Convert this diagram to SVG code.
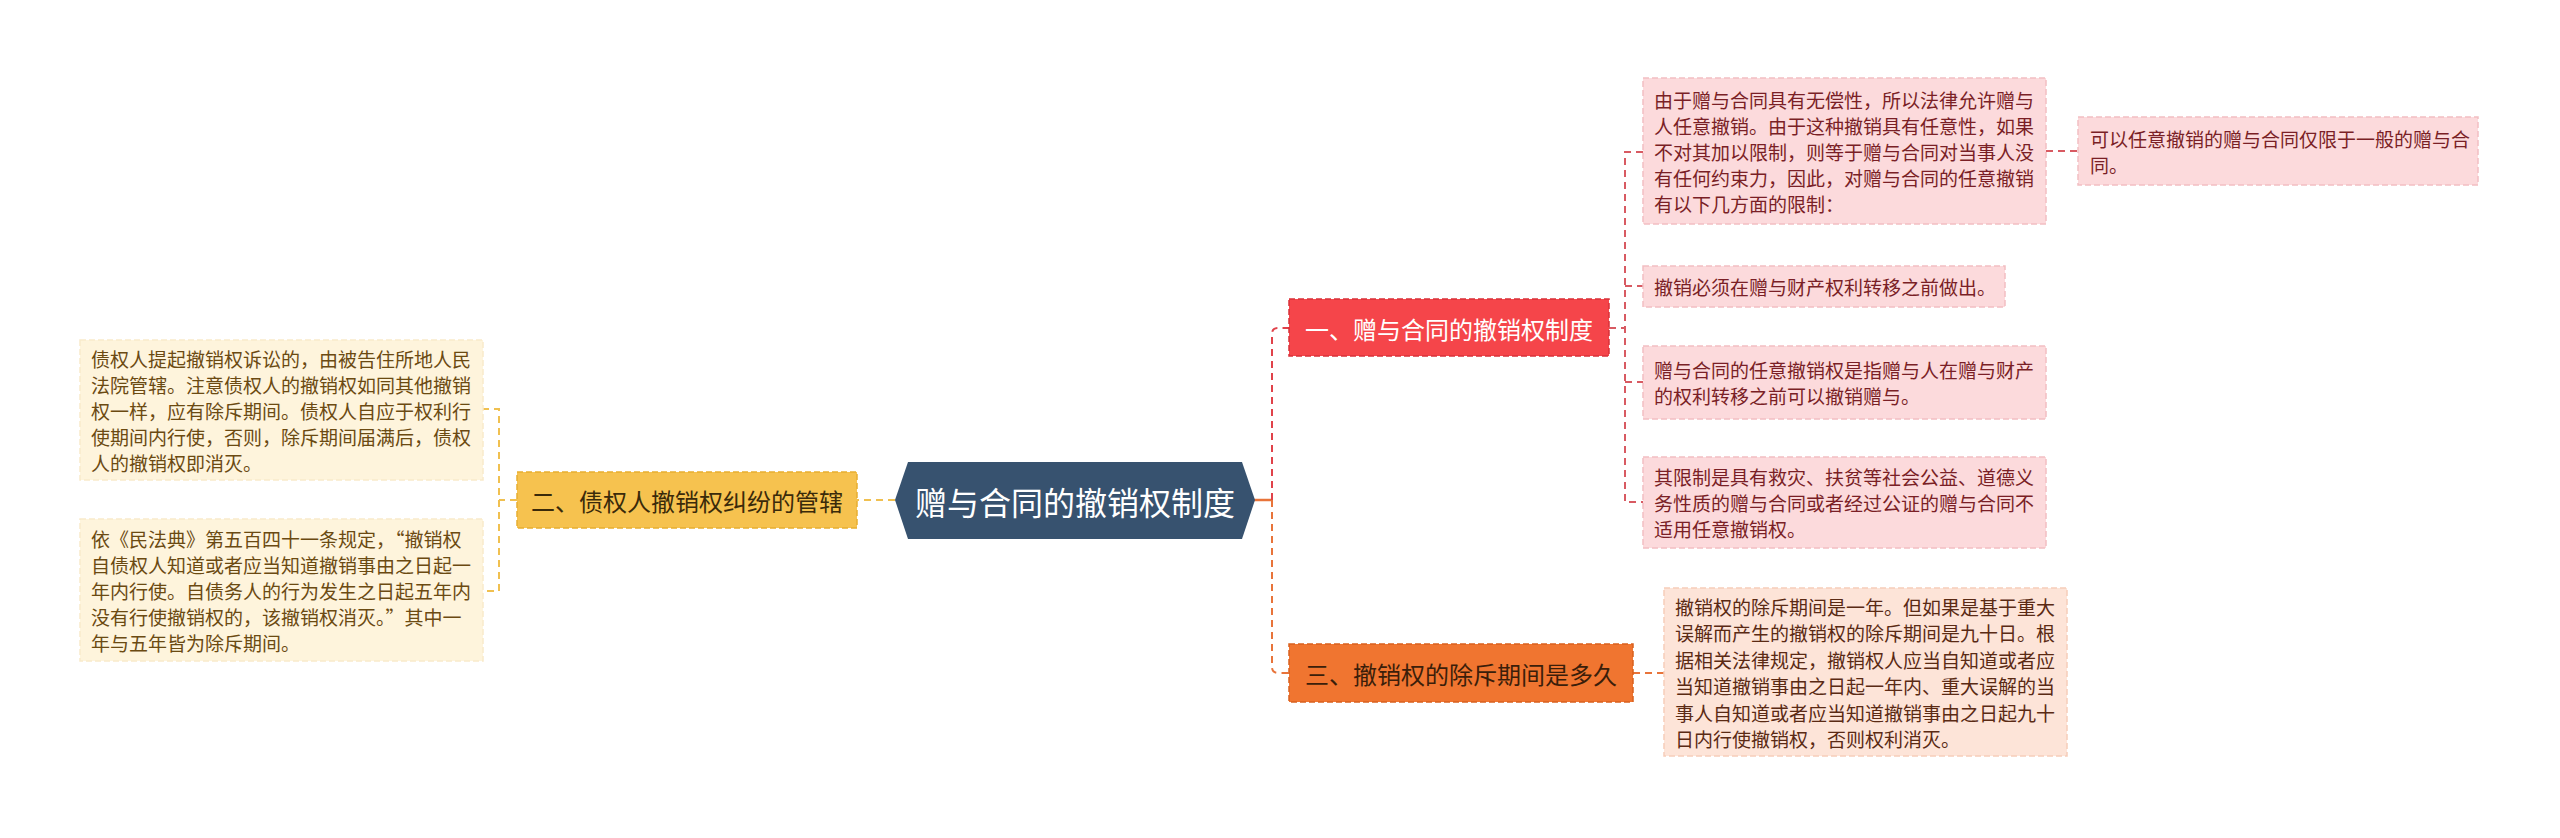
<svg xmlns="http://www.w3.org/2000/svg" width="2560" height="838" viewBox="0 0 2560 838">
<style>
text{font-family:"Noto Sans CJK SC","Microsoft YaHei",sans-serif;}
.lf{font-size:19px;dominant-baseline:central;}
.br{font-size:24px;dominant-baseline:central;text-anchor:middle;}
.pink rect{fill:#FCDADC;stroke:#F2BFC2;stroke-width:1.5;stroke-dasharray:6 3;}
.pink text{fill:#7A1F26;}
.peach rect{fill:#FDE4D8;stroke:#F6CDB9;stroke-width:1.5;stroke-dasharray:6 3;}
.peach text{fill:#5A2A14;}
.cream rect{fill:#FEF4DC;stroke:#F9EACA;stroke-width:1.5;stroke-dasharray:6 3;}
.cream text{fill:#6B4A12;}
.c{fill:none;stroke-width:2;stroke-dasharray:7 5;}
</style>
<rect width="2560" height="838" fill="#ffffff"/>
<g id="connectors">
  <path d="M1254 500 H1272" fill="none" stroke="#E8743A" stroke-width="2.5"/>
  <path class="c" stroke="#E0424A" d="M1272 500 V334 Q1272 328 1278 328 H1289"/>
  <path class="c" stroke="#E8743A" d="M1272 500 V667 Q1272 673 1278 673 H1289"/>
  <path class="c" stroke="#F0C050" d="M895 500 H857"/>
  <path class="c" stroke="#F0C050" d="M517 500 H499"/>
  <path class="c" stroke="#F0C050" d="M482 409 H499 V591 H482"/>
  <path class="c" stroke="#D85A62" d="M1609 328 H1625"/>
  <path class="c" stroke="#D85A62" d="M1643 152 H1625 V502 H1643"/>
  <path class="c" stroke="#D85A62" d="M1625 286 H1643"/>
  <path class="c" stroke="#D85A62" d="M1625 382 H1643"/>
  <path class="c" stroke="#D85A62" d="M2046 151 H2078"/>
  <path class="c" stroke="#E8743A" d="M1633 673 H1664"/>
</g>
<g id="center">
  <polygon points="895,500 908,462 1242,462 1255,500 1242,539 908,539" fill="#37526F"/>
  <text x="1075" y="501" font-size="32" fill="#ffffff" text-anchor="middle" dominant-baseline="central">赠与合同的撤销权制度</text>
</g>
<g id="branch1">
  <rect x="1289" y="299" width="320" height="57" fill="#F5454A" stroke="#D93038" stroke-width="1.5" stroke-dasharray="6 3"/>
  <text class="br" x="1449" y="328" fill="#ffffff">一、赠与合同的撤销权制度</text>
</g>
<g id="branch2">
  <rect x="517" y="472" width="340" height="56" fill="#F6C24F" stroke="#E8AE30" stroke-width="1.5" stroke-dasharray="6 3"/>
  <text class="br" x="687" y="500" fill="#3A2A0A">二、债权人撤销权纠纷的管辖</text>
</g>
<g id="branch3">
  <rect x="1289" y="644" width="344" height="58" fill="#F07530" stroke="#D9601E" stroke-width="1.5" stroke-dasharray="6 3"/>
  <text class="br" x="1461" y="673" fill="#3B1E0A">三、撤销权的除斥期间是多久</text>
</g>
<g id="leafA" class="pink">
  <rect x="1643" y="78" width="403" height="146"/>
  <text class="lf" x="1654" y="99">由于赠与合同具有无偿性，所以法律允许赠与</text>
  <text class="lf" x="1654" y="125">人任意撤销。由于这种撤销具有任意性，如果</text>
  <text class="lf" x="1654" y="151">不对其加以限制，则等于赠与合同对当事人没</text>
  <text class="lf" x="1654" y="177">有任何约束力，因此，对赠与合同的任意撤销</text>
  <text class="lf" x="1654" y="203">有以下几方面的限制：</text>
</g>
<g id="leafE" class="pink">
  <rect x="2078" y="117" width="400" height="68"/>
  <text class="lf" x="2090" y="138">可以任意撤销的赠与合同仅限于一般的赠与合</text>
  <text class="lf" x="2090" y="164">同。</text>
</g>
<g id="leafB" class="pink">
  <rect x="1643" y="266" width="362" height="41"/>
  <text class="lf" x="1654" y="286">撤销必须在赠与财产权利转移之前做出。</text>
</g>
<g id="leafC" class="pink">
  <rect x="1643" y="346" width="403" height="73"/>
  <text class="lf" x="1654" y="369">赠与合同的任意撤销权是指赠与人在赠与财产</text>
  <text class="lf" x="1654" y="395">的权利转移之前可以撤销赠与。</text>
</g>
<g id="leafD" class="pink">
  <rect x="1643" y="457" width="403" height="91"/>
  <text class="lf" x="1654" y="476">其限制是具有救灾、扶贫等社会公益、道德义</text>
  <text class="lf" x="1654" y="502">务性质的赠与合同或者经过公证的赠与合同不</text>
  <text class="lf" x="1654" y="528">适用任意撤销权。</text>
</g>
<g id="leafF" class="peach">
  <rect x="1664" y="588" width="403" height="168"/>
  <text class="lf" x="1675" y="606">撤销权的除斥期间是一年。但如果是基于重大</text>
  <text class="lf" x="1675" y="632">误解而产生的撤销权的除斥期间是九十日。根</text>
  <text class="lf" x="1675" y="659">据相关法律规定，撤销权人应当自知道或者应</text>
  <text class="lf" x="1675" y="685">当知道撤销事由之日起一年内、重大误解的当</text>
  <text class="lf" x="1675" y="712">事人自知道或者应当知道撤销事由之日起九十</text>
  <text class="lf" x="1675" y="738">日内行使撤销权，否则权利消灭。</text>
</g>
<g id="leafL1" class="cream">
  <rect x="80" y="340" width="403" height="140"/>
  <text class="lf" x="91" y="358">债权人提起撤销权诉讼的，由被告住所地人民</text>
  <text class="lf" x="91" y="384">法院管辖。注意债权人的撤销权如同其他撤销</text>
  <text class="lf" x="91" y="410">权一样，应有除斥期间。债权人自应于权利行</text>
  <text class="lf" x="91" y="436">使期间内行使，否则，除斥期间届满后，债权</text>
  <text class="lf" x="91" y="462">人的撤销权即消灭。</text>
</g>
<g id="leafL2" class="cream">
  <rect x="80" y="519" width="403" height="142"/>
  <text class="lf" x="91" y="538">依《民法典》第五百四十一条规定，“撤销权</text>
  <text class="lf" x="91" y="564">自债权人知道或者应当知道撤销事由之日起一</text>
  <text class="lf" x="91" y="590">年内行使。自债务人的行为发生之日起五年内</text>
  <text class="lf" x="91" y="616">没有行使撤销权的，该撤销权消灭。”其中一</text>
  <text class="lf" x="91" y="642">年与五年皆为除斥期间。</text>
</g>
</svg>
